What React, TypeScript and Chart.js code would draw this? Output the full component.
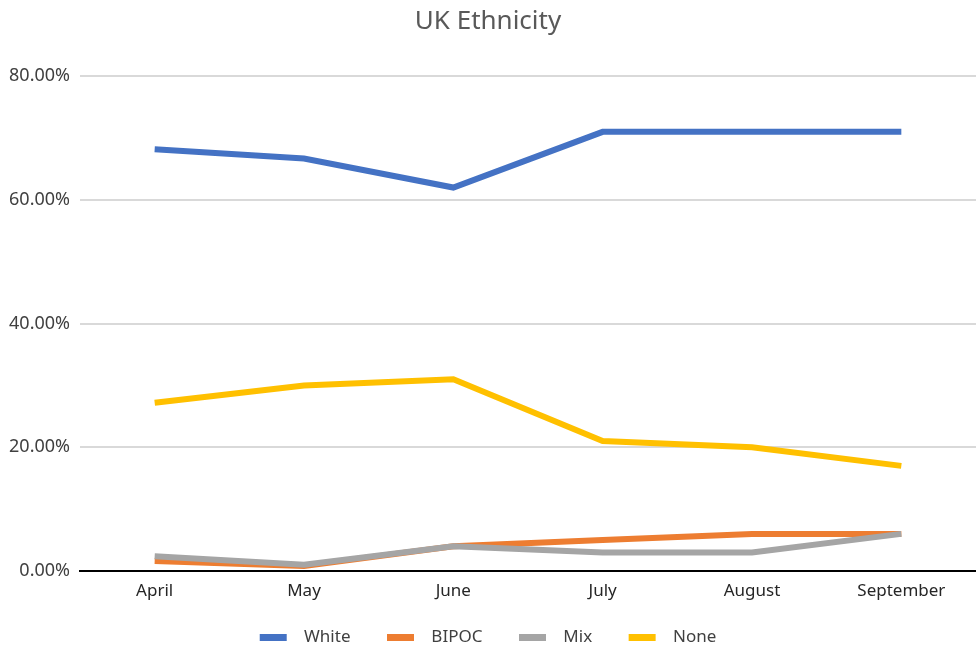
import React, { useEffect, useRef } from "react";
import { Chart, registerables } from "chart.js";

Chart.register(...registerables);

const months = ["April", "May", "June", "July", "August", "September"];
const white = [68.2, 66.7, 62.0, 71.0, 71.0, 71.0];
const bipoc = [1.6, 0.8, 4.0, 5.0, 6.0, 6.0];
const mix = [2.4, 1.0, 4.0, 3.0, 3.0, 6.0];
const none = [27.2, 30.0, 31.0, 21.0, 20.0, 17.0];
const yTicks = [0, 20, 40, 60, 80];

const FONT = "'Noto Sans', sans-serif";

export default function App() {
  const ref = useRef<HTMLCanvasElement | null>(null);
  useEffect(() => {
    document.body.style.margin = "0";
    const ctx = ref.current!;
    const mk = (label: string, data: number[], color: string, order: number) => ({
      label,
      data,
      borderColor: color,
      backgroundColor: color,
      borderWidth: 6,
      pointRadius: 0,
      pointHoverRadius: 0,
      tension: 0,
      fill: false,
      order,
    });
    const chart = new Chart(ctx, {
      type: "line",
      data: {
        labels: months,
        datasets: [
          mk("White", white, "#4472C4", 4),
          mk("BIPOC", bipoc, "#ED7D31", 3),
          mk("Mix", mix, "#A5A5A5", 2),
          mk("None", none, "#FFC000", 1),
        ],
      },
      options: {
        animation: false,
        responsive: false,
        maintainAspectRatio: false,
        layout: { padding: { left: 0, right: 0, top: 0, bottom: 0 } },
        plugins: {
          title: {
            display: true,
            text: "UK Ethnicity",
            color: "#595959",
            font: { family: FONT, size: 26, weight: "normal" },
            padding: { top: 6, bottom: 39 },
          },
          legend: {
            position: "bottom",
            labels: {
              color: "#404040",
              font: { family: FONT, size: 17 },
              boxWidth: 27,
              boxHeight: 7,
              padding: 10,
              generateLabels: (c: any) =>
                c.data.datasets.map((d: any, i: number, arr: any[]) => ({
                  text: "  " + d.label + (i < arr.length - 1 ? "      " : ""),
                  fillStyle: d.borderColor,
                  strokeStyle: d.borderColor,
                  lineWidth: 0,
                  datasetIndex: i,
                  hidden: false,
                  fontColor: "#404040",
                })),
            },
          },
          tooltip: { enabled: false },
        },
        scales: {
          x: {
            type: "category",
            offset: true,
            grid: { display: false, drawTicks: false },
            border: { display: true, color: "#000000", width: 2 },
            ticks: {
              color: "#262626",
              font: { family: FONT, size: 17 },
              padding: 10,
              maxRotation: 0,
              autoSkip: false,
            },
            afterFit: (s: any) => {
              s.height = 48;
            },
          },
          y: {
            min: 0,
            max: 80,
            afterBuildTicks: (s: any) => {
              s.ticks = yTicks.map((v) => ({ value: v }));
            },
            grid: {
              color: "#D9D9D9",
              lineWidth: 2,
              drawTicks: false,
            },
            border: { display: false },
            ticks: {
              color: "#404040",
              font: { family: FONT, size: 18 },
              padding: 10,
              callback: (v: any) => Number(v).toFixed(2) + "%",
            },
            afterFit: (s: any) => {
              s.width = 80;
            },
          },
        },
      },
    });
    return () => chart.destroy();
  }, []);
  return (
    <div style={{ position: "fixed", left: 0, top: 0, width: 976, height: 650, overflow: "hidden", background: "#fff" }}>
      <canvas ref={ref} width={976} height={656} style={{ width: 976, height: 656, display: "block" }} />
    </div>
  );
}
